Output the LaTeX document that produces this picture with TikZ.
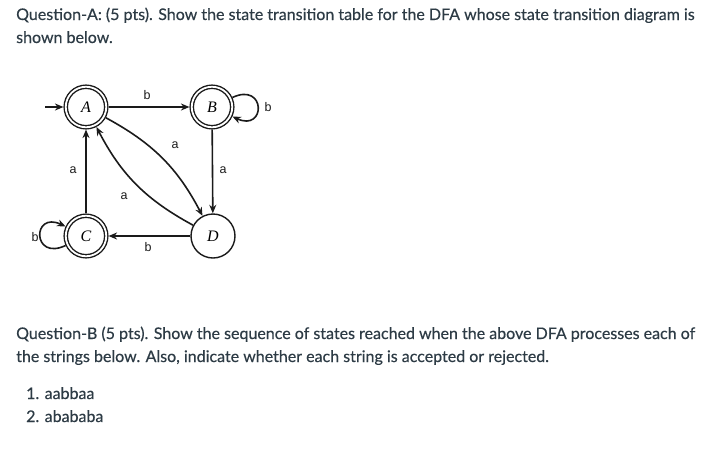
\documentclass[tikz,border=0pt]{standalone}
\usepackage{fontspec}
\setmainfont{Lato}
\newfontfamily\parafont{Lato}[FakeBold=0.4]
\newfontfamily\nodefont{Liberation Serif}
\newfontfamily\lblfont{Liberation Sans}
\usetikzlibrary{arrows.meta}
\definecolor{txt}{HTML}{2D3B45}
\definecolor{ink}{HTML}{1A1A1A}
\tikzset{
  para/.style={anchor=base west, inner sep=0pt, text=txt, font=\parafont\fontsize{16}{18}\selectfont},
  state/.style={circle, draw=ink, line width=1.4pt, minimum size=44pt, inner sep=0pt,
     font=\nodefont\itshape\fontsize{16}{16}\selectfont},
  accept/.style={circle, draw=ink, line width=1.4pt, double, double distance=1.8pt, minimum size=40.5pt,
     inner sep=0pt, outer sep=2.3pt, font=\nodefont\itshape\fontsize{16}{16}\selectfont},
  trans/.style={draw=ink, line width=1.6pt, -{Stealth[length=8.5pt,width=7pt]}},
  lbl/.style={font=\lblfont\fontsize{12.5}{12.5}\selectfont, text=ink, inner sep=0pt}
}
\begin{document}
\begin{tikzpicture}[x=1pt,y=-1pt]
\useasboundingbox (0,0) rectangle (726,451);
\node[para] (qa1) at (16,20) {Question-A: (5 pts). Show the state transition table for the DFA whose state transition diagram is};
\node[para] (qa2) at (16,43) {shown below.};
\node[para] (qb1) at (16,339) {Question-B (5 pts). Show the sequence of states reached when the above DFA processes each of};
\node[para] (qb2) at (16,362) {the strings below. Also, indicate whether each string is accepted or rejected.};
\node[para] (l1) at (26,399) {1. aabbaa};
\node[para] (l2) at (26,422) {2. abababa};

\node[accept] (A) at (86,107) {A};
\node[accept] (B) at (212,107) {B};
\node[accept] (C) at (86,236) {C};
\node[state] (D) at (213,236) {D};
\coordinate (start) at (45,107);

\draw[trans] (start) -- (A);
\draw[trans] (A) -- (B);
\draw[trans] (B) -- (D);
\draw[trans] (D) -- (C);
\draw[trans] (C) -- (A);
\draw[trans] (A) to[bend left=17] (D);
\draw[trans] (D) to[bend left=17] (A);
\draw[trans] (B) to[out=25,in=-25,looseness=5] (B);
\draw[trans] (C) to[out=205,in=155,looseness=5] (C);

\node[lbl] (lab) at (147,95) {b};
\node[lbl] (lad) at (175,145) {a};
\node[lbl] (lbd) at (223,170) {a};
\node[lbl] (lca) at (73,170) {a};
\node[lbl] (lda) at (124,196) {a};
\node[lbl] (ldc) at (148,247) {b};
\node[lbl] (lbb) at (268,107) {b};
\node[lbl] (lcc) at (35,237) {b};
\end{tikzpicture}
\end{document}
